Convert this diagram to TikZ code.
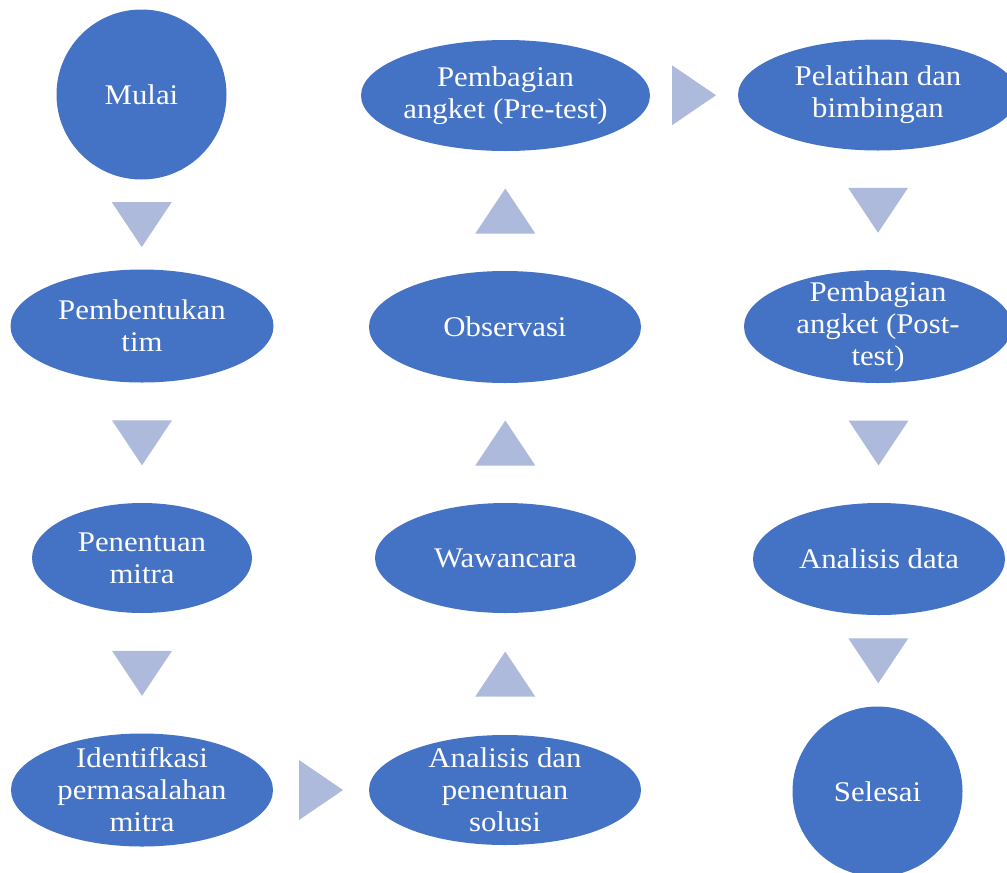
\documentclass[tikz,border=0pt]{standalone}
\usepackage{fontspec}
\setmainfont{Liberation Serif}[FakeStretch=1.08]
\usetikzlibrary{shapes.geometric,calc}

\definecolor{procblue}{RGB}{68,114,196}
\definecolor{arrowblue}{RGB}{173,186,220}

\tikzset{
  proc/.style={ellipse, fill=procblue, inner sep=0pt},
  ends/.style={circle, fill=procblue, inner sep=0pt, minimum size=170pt},
  word/.style={text=white, align=center, font=\fontsize{28.5}{32}\selectfont},
  arr/.style={fill=arrowblue},
}

\begin{document}
\begin{tikzpicture}[x=1pt,y=-1pt]
  \useasboundingbox (0,0) rectangle (1007,873);

  % first column, down
  \node[ends] (mulai) at (141.5,94.5) {};
  \node[proc, minimum width=263pt, minimum height=113pt] (tim) at (142,326) {};
  \node[proc, minimum width=220pt, minimum height=110pt] (mitra) at (142,558) {};
  \node[proc, minimum width=262pt, minimum height=113pt] (ident) at (142,790) {};

  % second column, up
  \node[proc, minimum width=272pt, minimum height=110pt] (solusi) at (505,790) {};
  \node[proc, minimum width=261pt, minimum height=110pt] (wawan) at (505.5,558) {};
  \node[proc, minimum width=272pt, minimum height=112pt] (obs) at (505,327) {};
  \node[proc, minimum width=289pt, minimum height=111pt] (pre) at (505.5,95.5) {};

  % third column, down
  \node[proc, minimum width=280pt, minimum height=111pt] (latih) at (878,95) {};
  \node[proc, minimum width=268pt, minimum height=113pt] (post) at (878,326.5) {};
  \node[proc, minimum width=252pt, minimum height=112pt] (adata) at (879,559) {};
  \node[ends] (selesai) at (877.5,791.5) {};

  % texts
  \node[word] (mulai-t) at (mulai) {Mulai};
  \node[word] (tim-t) at (tim) {Pembentukan\\tim};
  \node[word] (mitra-t) at (mitra) {Penentuan\\mitra};
  \node[word] (ident-t) at (ident) {Identifkasi\\permasalahan\\mitra};
  \node[word] (solusi-t) at (solusi) {Analisis dan\\penentuan\\solusi};
  \node[word] (wawan-t) at (wawan) {Wawancara};
  \node[word] (obs-t) at (obs) {Observasi};
  \node[word] (pre-t) at (pre) {Pembagian\\angket (Pre-test)};
  \node[word] (latih-t) at (latih) {Pelatihan dan\\bimbingan};
  \node[word] (post-t) at (post) {Pembagian\\angket (Post-\\test)};
  \node[word] (adata-t) at (adata) {Analisis data};
  \node[word] (selesai-t) at (selesai) {Selesai};

  % arrows
  \foreach \a/\b in {mulai/tim, tim/mitra, mitra/ident, latih/post, post/adata, adata/selesai}
    \fill[arr] ($(\a.south)!.5!(\b.north)$) ++(-30,-22.5) -- ++(60,0) -- ++(-30,45) -- cycle;
  \foreach \a/\b in {solusi/wawan, wawan/obs, obs/pre}
    \fill[arr] ($(\a.north)!.5!(\b.south)$) ++(-30,22.5) -- ++(60,0) -- ++(-30,-45) -- cycle;
  \foreach \a/\b in {ident/solusi, pre/latih}
    \fill[arr] ($(\a.east)!.5!(\b.west)$) ++(-22,-30) -- ++(0,60) -- ++(44,-30) -- cycle;
\end{tikzpicture}
\end{document}
